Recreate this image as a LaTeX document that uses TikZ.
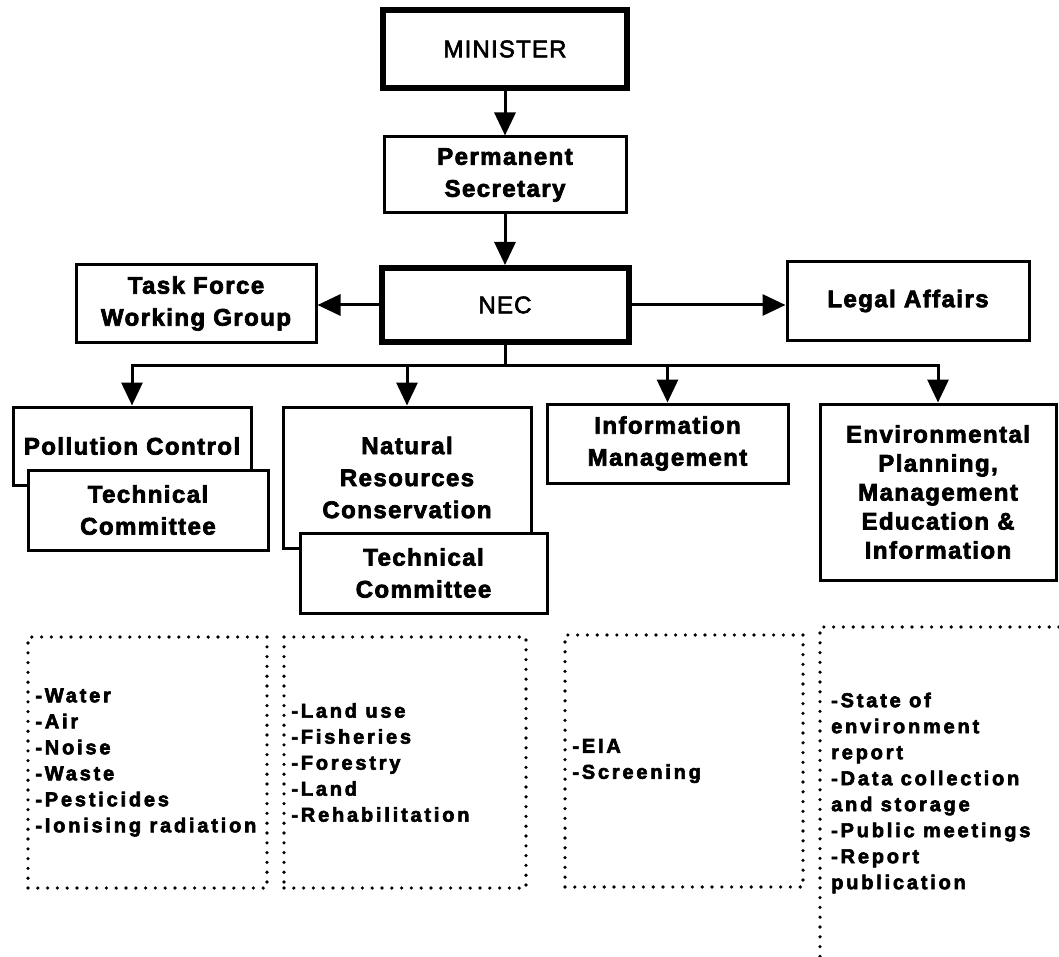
\documentclass[tikz,border=0pt]{standalone}
\usepackage{fontspec}
\setmainfont{Liberation Sans}
\newfontfamily\boxfont{Liberation Sans Bold}[LetterSpace=6,FakeBold=3]
\newfontfamily\listfont{Liberation Sans Bold}[LetterSpace=14,FakeBold=3]
\newfontfamily\topfont{Liberation Sans}[LetterSpace=5,FakeBold=2.5]
\usetikzlibrary{arrows.meta}
\begin{document}
\begin{tikzpicture}[x=1pt,y=-1pt,
  box/.style={draw, line width=3pt, fill=white, align=center, inner sep=0pt,
    font=\boxfont\fontsize{24}{32}\selectfont},
  heavybox/.style={box, line width=6pt, font=\topfont\fontsize{24}{28}\selectfont},
  conn/.style={line width=3pt, -{Triangle[width=21pt,length=23pt]}},
  bar/.style={line width=3pt},
  dots/.style={line width=3.6pt, dash pattern=on 0pt off 9.8pt, line cap=round},
  dotbox/.style={draw, dots, inner sep=0pt},
  listtext/.style={align=left, inner sep=0pt, anchor=west,
    font=\listfont\fontsize{20}{26}\selectfont}]
\useasboundingbox (0,0) rectangle (1059,957);
% top chain
\node[heavybox, minimum width=244, minimum height=78] (min) at (505,49) {MINISTER};
\node[box, minimum width=242, minimum height=76] (ps) at (505,175) {Permanent\\Secretary};
\node[heavybox, minimum width=247, minimum height=74] (nec) at (505,305) {NEC};
\node[box, minimum width=240, minimum height=77] (tf) at (196,303.5) {Task Force\\Working Group};
\node[box, minimum width=242, minimum height=78] (la) at (908,301) {Legal Affairs};
% second level
\node[box, minimum width=238, minimum height=78] (pc) at (132,446) {Pollution Control};
\node[box, minimum width=240, minimum height=80] (tc1) at (148,510) {Technical\\Committee};
\node[box, minimum width=248, minimum height=141] (nr) at (407,477.5) {Natural\\Resources\\Conservation};
\node[box, minimum width=247, minimum height=80] (tc2) at (423.5,573) {Technical\\Committee};
\node[box, minimum width=241, minimum height=79] (im) at (667.5,443.5) {Information\\Management};
\node[box, minimum width=236, minimum height=176, font=\boxfont\fontsize{24}{29}\selectfont] (ep) at (938,492)
  {Environmental\\Planning,\\Management\\Education \&\\Information};
% connectors
\draw[conn] (min.south) -- (ps.north);
\draw[conn] (ps.south) -- (nec.north);
\draw[conn] (nec.west) -- (tf.east |- nec.west);
\draw[conn] (nec.east) -- (la.west |- nec.east);
\coordinate (bus) at (505,365);
\draw[bar] (nec.south) -- (bus);
\draw[conn] (bus) -| (pc.north);
\draw[conn] (bus) -| (nr.north);
\draw[conn] (bus) -| (im.north);
\draw[conn] (bus) -| (ep.north);
% dotted lists
\node[dotbox, minimum width=239, minimum height=251] (l1) at (147.5,762.5) {};
\node[listtext] (t1) at ([xshift=9pt]l1.west) {-Water\\-Air\\-Noise\\-Waste\\-Pesticides\\-Ionising radiation};
\node[dotbox, minimum width=242, minimum height=251] (l2) at (405,762.5) {};
\node[listtext] (t2) at ([xshift=9pt]l2.west) {-Land use\\-Fisheries\\-Forestry\\-Land\\-Rehabilitation};
\node[dotbox, minimum width=238, minimum height=252] (l3) at (684,761) {};
\node[listtext] (t3) at ([xshift=9pt]l3.west) {-EIA\\-Screening};
\coordinate (l4) at (820,627);
\coordinate (l4r) at (1059,627);
\coordinate (l4b) at (820,957);
\draw[dots] (l4r) -- (l4) -- (l4b);
\node[listtext] (t4) at (831,793) {-State of\\environment\\report\\-Data collection\\and storage\\-Public meetings\\-Report\\publication};
\end{tikzpicture}
\end{document}
